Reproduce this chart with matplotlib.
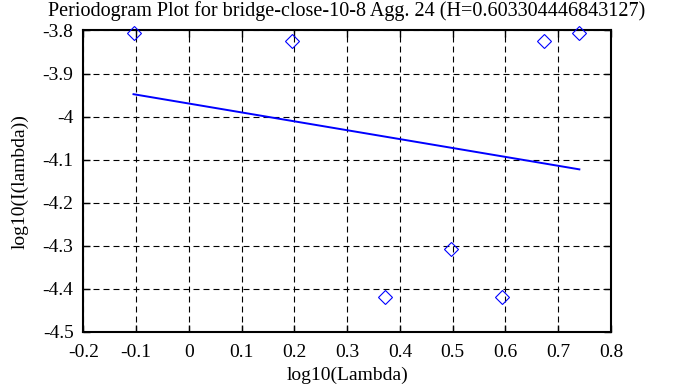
import numpy as np
import matplotlib
matplotlib.use("Agg")
import matplotlib.pyplot as plt

# periodogram points
log_lambda = [-0.1049, 0.1961, 0.3722, 0.4971, 0.5941, 0.6732, 0.7402]
log_I = [-3.8065, -3.824, -4.418, -4.307, -4.418, -3.8237, -3.805]

# fitted line end points
fit_x = [-0.1049, 0.7402]
fit_y = [-3.948, -4.1226]

x_ticks = [-0.2, -0.1, 0, 0.1, 0.2, 0.3, 0.4, 0.5, 0.6, 0.7, 0.8]
y_ticks = [-4.5, -4.4, -4.3, -4.2, -4.1, -4.0, -3.9, -3.8]
title = "Periodogram Plot for bridge-close-10-8 Agg. 24 (H=0.603304446843127)"

plt.rcParams['font.family'] = ['Liberation Serif', 'DejaVu Serif']
plt.rcParams['lines.scale_dashes'] = False

fig = plt.figure(figsize=(6.95, 3.87), dpi=100)
ax = fig.add_axes([0.1199, 0.1426, 0.7591, 0.7786])

ax.plot(fit_x, fit_y, color='#0000ff', lw=1.4, zorder=3)
ax.plot(log_lambda, log_I, ls='none', marker='D', ms=7, mfc='none',
        mec='#0000ff', mew=0.8, zorder=4, clip_on=False)

ax.set_xlim(-0.2, 0.8)
ax.set_ylim(-4.5, -3.8)
ax.set_xticks(x_ticks)
ax.set_yticks(y_ticks)
ax.set_xticklabels(['%g' % v for v in x_ticks])
ax.set_yticklabels(['%g' % v for v in y_ticks])

ax.grid(True, color='black', lw=0.8, ls=(0, (4.3, 2.9)))
ax.tick_params(direction='in', length=5, width=1.0, top=True, right=True,
               labelsize=14, colors='black')
ax.tick_params(axis='x', pad=9)
ax.tick_params(axis='y', pad=7)
for s in ax.spines.values():
    s.set_linewidth(1.5)

ax.set_xlabel('log10(Lambda)', fontsize=14, labelpad=4)
ax.set_ylabel('log10(I(lambda))', fontsize=14, labelpad=10)
fig.text(0.4986, 1 - 11 / 387, title, fontsize=14.5, ha='center', va='center')

fig.savefig('out.png', dpi=100)
